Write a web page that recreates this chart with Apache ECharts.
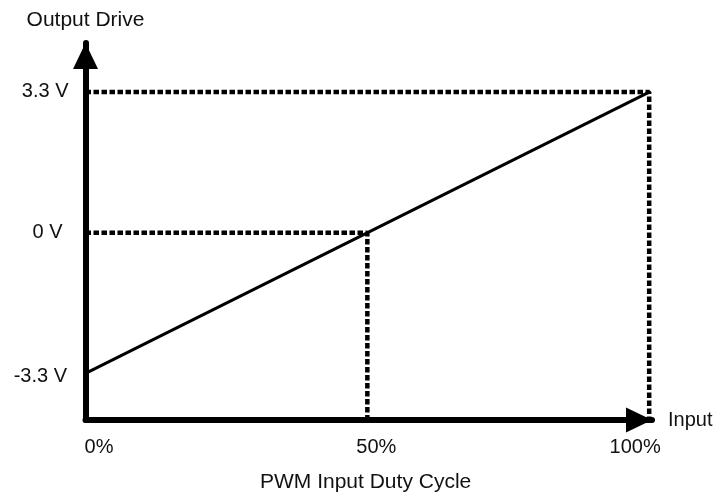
<!DOCTYPE html>
<html lang="en">
<head>
<meta charset="UTF-8">
<title>PWM Output Drive</title>
<script src="https://cdn.jsdelivr.net/npm/echarts@6/dist/echarts.min.js"></script>
<style>
  html, body { margin: 0; padding: 0; background: #fff; }
  #chart { width: 720px; height: 497px; }
</style>
</head>
<body>
<div id="chart"></div>
<script>
// data
var xTicks = [0, 50, 100];
var xTickLabels = ['0%', '50%', '100%'];
var yTicks = [-3.3, 0, 3.3];
var yTickLabels = ['-3.3 V', '0 V', '3.3 V'];
var dutyCycle = [0, 100];
var driveVolts = [-3.3, 3.3];
var midPoint = [50, 0];
var fullPoint = [100, 3.3];

// axis ranges (axis arrows reach a bit past the ticks)
var xMin = 0, xMax = 100.5;
var yMin = -4.392, yMax = 4.451;

var font = 'Liberation Sans, Arial, sans-serif';
var ink = '#111';

var driveLine = dutyCycle.map(function (x, i) { return [x, driveVolts[i]]; });
var guideMid = [[xMin, midPoint[1]], midPoint, [midPoint[0], yMin]];
var guideFull = [[xMin, fullPoint[1]], fullPoint, [fullPoint[0], yMin]];

var dotted = {
  color: '#000',
  width: 4.5,
  type: [5.5, 2.5],
  cap: 'butt'
};

var chart = echarts.init(document.getElementById('chart'));
chart.setOption({
  animation: false,
  title: {
    text: 'PWM Input Duty Cycle',
    left: 260,
    top: 472,
    padding: 0,
    textStyle: { fontFamily: font, fontSize: 21, fontWeight: 'normal', color: ink }
  },
  grid: { left: 85.5, right: 68, top: 43, bottom: 77 },
  xAxis: {
    type: 'value',
    min: xMin,
    max: xMax,
    name: 'Input',
    nameLocation: 'end',
    nameGap: 16,
    nameMoveOverlap: false,
    nameTextStyle: { fontFamily: font, fontSize: 20, color: ink },
    axisLine: {
      onZero: false,
      symbol: ['none', 'triangle'],
      symbolSize: [25, 26],
      symbolOffset: [0, -13],
      lineStyle: { color: '#000', width: 6 }
    },
    axisTick: { show: false },
    splitLine: { show: false },
    axisLabel: {
      customValues: xTicks,
      margin: 17,
      fontFamily: font,
      fontSize: 20,
      color: ink,
      formatter: function (v) {
        var i = xTicks.indexOf(v);
        return '{p' + i + '|' + xTickLabels[i] + '}';
      },
      rich: {
        p0: { fontFamily: font, fontSize: 20, color: ink, padding: [0, 0, 0, 27] },
        p1: { fontFamily: font, fontSize: 20, color: ink, padding: [0, 0, 0, 18] },
        p2: { fontFamily: font, fontSize: 20, color: ink, padding: [0, 28, 0, 0] }
      }
    }
  },
  yAxis: {
    type: 'value',
    min: yMin,
    max: yMax,
    name: 'Output Drive',
    nameLocation: 'end',
    nameGap: 12,
    nameMoveOverlap: false,
    nameTextStyle: { fontFamily: font, fontSize: 21, color: ink },
    axisLine: {
      onZero: false,
      symbol: ['none', 'triangle'],
      symbolSize: [25, 26],
      symbolOffset: [0, -13],
      lineStyle: { color: '#000', width: 6 }
    },
    axisTick: { show: false },
    splitLine: { show: false },
    axisLabel: {
      customValues: yTicks,
      margin: 17,
      align: 'right',
      fontFamily: font,
      fontSize: 20,
      color: ink,
      formatter: function (v) {
        var i = yTicks.indexOf(v);
        return '{q' + i + '|' + yTickLabels[i] + '}';
      },
      rich: {
        q0: { fontFamily: font, fontSize: 20, color: ink, padding: [6, 1.5, 0, 0] },
        q1: { fontFamily: font, fontSize: 20, color: ink, padding: [0, 6, 0, 0] },
        q2: { fontFamily: font, fontSize: 20, color: ink, padding: [0, 0, 2, 0] }
      }
    }
  },
  series: [
    {
      type: 'line',
      data: guideMid,
      symbol: 'none',
      silent: true,
      lineStyle: dotted,
      z: 2
    },
    {
      type: 'line',
      data: guideFull,
      symbol: 'none',
      silent: true,
      lineStyle: dotted,
      z: 2
    },
    {
      type: 'line',
      data: driveLine,
      symbol: 'none',
      silent: true,
      lineStyle: { color: '#000', width: 3 },
      z: 3
    }
  ]
});
</script>
</body>
</html>
